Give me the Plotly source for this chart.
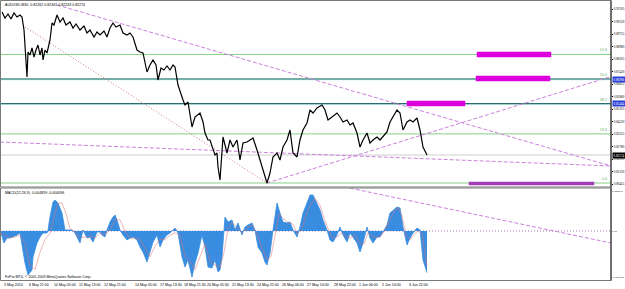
import plotly.graph_objects as go

W, H = 625, 289

# ---------------- data ----------------
bars = [2,5,8,11,14,17,20,22,24,25,26,27,28,30,32,34,36,38,40,42,43,45,47,48,50,52,54,57,60,63,66,70,73,76,80,84,87,90,94,97,100,104,107,110,113,116,120,123,127,130,133,137,140,143,147,150,153,156,158,161,164,167,170,173,175,178,181,183,185,188,192,195,200,203,205,208,210,212,213,215,217,218,220,223,227,230,233,237,240,243,247,250,253,257,260,263,267,270,273,277,280,283,287,290,293,297,300,303,307,310,313,317,322,325,328,332,337,340,343,347,350,353,357,360,363,367,370,373,377,380,383,387,390,393,397,400,403,407,410,413,417,420,423,427]
close = [0.91140,0.90768,0.91016,0.90706,0.91078,0.90830,0.90954,0.90830,0.90024,0.89218,0.88474,0.87110,0.88660,0.88474,0.88908,0.88350,0.88784,0.89094,0.88474,0.88908,0.88164,0.88784,0.88598,0.88908,0.89404,0.90458,0.90334,0.90954,0.90520,0.90768,0.90334,0.90520,0.90148,0.90396,0.90024,0.90272,0.89838,0.90024,0.89590,0.89900,0.89714,0.89962,0.89590,0.90148,0.90458,0.90210,0.90334,0.89838,0.89714,0.89838,0.89590,0.88784,0.88660,0.88598,0.87420,0.87854,0.88164,0.87854,0.86924,0.87668,0.87544,0.87792,0.87544,0.87854,0.87730,0.86614,0.85994,0.85684,0.85374,0.85560,0.84010,0.84630,0.84878,0.84320,0.83638,0.83204,0.83204,0.82770,0.82584,0.82274,0.82398,0.81530,0.80724,0.83390,0.82398,0.83204,0.82770,0.83204,0.81964,0.83018,0.83080,0.83204,0.83328,0.82584,0.81964,0.81344,0.80538,0.81158,0.82150,0.82398,0.81964,0.82770,0.83204,0.83824,0.82398,0.82150,0.83204,0.83824,0.84258,0.85064,0.84878,0.85188,0.85374,0.85064,0.84444,0.84630,0.84878,0.84630,0.84320,0.84444,0.84134,0.84258,0.83638,0.82770,0.83204,0.83638,0.83018,0.83204,0.83390,0.83204,0.83390,0.83700,0.84320,0.84630,0.85064,0.84878,0.83824,0.84320,0.84444,0.84320,0.84568,0.83824,0.82770,0.82274]

macd_bars = [0,2,4,7,10,13,17,20,22,25,28,32,33,37,40,43,47,48,50,52,53,55,58,62,65,68,72,75,78,80,83,87,90,93,97,100,102,105,107,110,113,115,117,120,123,127,130,133,137,140,143,147,150,153,157,160,163,167,170,173,175,178,182,185,188,192,195,198,202,205,208,212,215,218,220,222,223,225,228,232,235,238,242,245,248,252,255,258,262,265,267,270,273,275,277,280,283,287,290,293,297,300,303,307,310,313,317,320,323,327,330,333,337,340,343,347,350,353,357,360,363,367,370,373,377,380,383,387,390,393,397,400,403,407,410,413,417,420,423,427]
macd_main = [-0.000117,-0.000584,-0.001402,-0.000818,-0.000818,-0.000701,-0.000467,-0.000234,-0.001869,-0.003738,-0.005139,-0.004555,-0.003037,-0.001402,-0.000701,-0.000234,-0.000234,0.000117,0.001635,0.002803,0.003387,0.003621,0.003270,0.002102,0.000117,0.000117,0.000117,-0.000234,-0.001051,-0.001402,0.000117,-0.000818,-0.000701,-0.001285,-0.000117,-0.000117,-0.000467,-0.000701,0.000117,0.001051,0.001635,0.001869,0.001285,0.000117,-0.000467,-0.001051,-0.000818,-0.000701,-0.001051,-0.001869,-0.002453,-0.003621,-0.002453,-0.001285,-0.000467,-0.001869,-0.001051,-0.000467,-0.000234,0.000117,0.000350,-0.000234,-0.003037,-0.004205,-0.003387,-0.005373,-0.003738,-0.002570,-0.000467,-0.001869,-0.004205,-0.004322,-0.003387,-0.004789,-0.004555,-0.003037,-0.001051,0.001635,0.001051,0.001285,0.000117,0.000934,-0.000467,0.000467,0.000701,0.000934,0.000117,-0.001869,-0.002570,-0.003621,-0.003971,-0.002570,0.000117,0.001635,0.003270,0.002102,0.001051,0.000934,0.001051,0.000117,-0.000701,0.000467,0.002102,0.003270,0.004205,0.004205,0.003270,0.002453,0.001285,0.000117,-0.001051,-0.001285,-0.000467,0.000467,-0.000467,-0.001285,-0.000234,-0.000701,-0.001402,-0.002453,-0.001402,0.000467,-0.000818,-0.001402,-0.000701,-0.000701,-0.000117,0.000701,0.002102,0.002453,0.002803,0.002686,0.000467,-0.001636,-0.000818,-0.000234,0.000350,0.000117,-0.003387,-0.004859]

sig_bars = [0,5,10,15,20,25,30,35,40,45,50,55,58,62,66,70,75,80,85,90,95,100,105,110,115,120,125,130,135,140,145,150,155,160,165,170,175,180,185,190,195,200,205,210,215,220,224,228,232,237,242,247,252,257,262,267,271,275,279,283,288,293,297,302,306,310,315,320,324,328,332,337,342,346,350,355,360,364,368,372,377,382,386,390,394,398,402,406,410,414,418,422,427]
macd_signal = [-0.0002,-0.0005,-0.0008,-0.0007,-0.0005,-0.0015,-0.0040,-0.0045,-0.0025,-0.0010,-0.0003,0.0020,0.0032,0.0033,0.0020,0.0003,-0.0001,-0.0008,-0.0007,-0.0006,-0.0008,-0.0003,-0.0004,0.0001,0.0013,0.0013,0.0000,-0.0009,-0.0008,-0.0010,-0.0020,-0.0030,-0.0018,-0.0010,-0.0010,-0.0005,-0.0002,-0.0005,-0.0030,-0.0035,-0.0045,-0.0030,-0.0015,-0.0035,-0.0040,-0.0042,-0.0025,0.0003,0.0010,0.0004,-0.0002,0.0003,0.0007,-0.0003,-0.0020,-0.0033,-0.0030,-0.0005,0.0020,0.0015,0.0010,0.0008,-0.0003,0.0003,0.0018,0.0030,0.0038,0.0030,0.0015,0.0003,-0.0008,-0.0007,-0.0002,-0.0007,-0.0008,-0.0005,-0.0015,-0.0015,-0.0002,-0.0006,-0.0008,-0.0004,0.0003,0.0013,0.0023,0.0027,0.0018,-0.0005,-0.0010,-0.0004,0.0000,-0.0003,-0.004096]

# Fibonacci retracement
fib_low, fib_high = 0.80538, 0.93434
fib_levels = [0.0, 23.6, 38.2, 50.0, 61.8]
fib_labels = ["0.0", "23.6", "38.2", "50.0", "61.8"]
hlines_teal = [0.86986, 0.85464]
last_price = 0.82274

# trend lines: (bar0, value0, bar1, value1)
trend_main = [(57, 0.91574, 611, 0.81592), (267, 0.80538, 611, 0.87141), (0, 0.83080, 611, 0.81592)]
fib_diag = (25, 0.90210, 267, 0.80538)
trend_macd = (350, 0.00501, 611, -0.00140)

# rectangles (bar0, bar1, v_top, v_bottom, colour)
rects = [(477, 551, 0.88660, 0.88350, "#dd00dd"), (476, 550, 0.87172, 0.86862, "#dd00dd"),
         (407, 465, 0.85622, 0.85312, "#dd00dd"), (469, 594, 0.80600, 0.80414, "#a23cb8")]

price_ticks = [0.91305, 0.90530, 0.89755, 0.88980, 0.88205, 0.87430, 0.86655, 0.85880,
               0.85105, 0.84330, 0.83555, 0.82780, 0.82005, 0.81230, 0.80455]
macd_ticks = [0.004670, 0.0, -0.005380]
macd_tick_text = ["0.004670", "0.00", "-0.005380"]

time_pos = [2, 27, 52, 77, 102, 133, 158, 182, 205, 230, 255, 280, 305, 332, 357, 380, 407]
time_labels = ["5 May 2010", "6 May 21:00", "10 May 05:00", "11 May 13:00", "12 May 21:00",
               "14 May 05:00", "17 May 13:30", "18 May 21:30", "20 May 05:30", "21 May 13:30",
               "24 May 22:00", "26 May 06:00", "27 May 14:00", "28 May 22:00", "1 Jun 06:00",
               "2 Jun 14:00", "3 Jun 22:00"]

title_text = "AUDUSD,M30  0.82262 0.82341 0.82243 0.82274"
macd_title = "MACD(12,26,9) -0.004859 -0.004096"
copyright_text = "FxPro MT4, \u00a9 2001-2009 MetaQuotes Software Corp."

# ---------------- layout geometry ----------------
X_END = 611
MAIN_TOP, MAIN_BOT = 1, 187
MACD_TOP, MACD_BOT = 188, 280.5
FONT = "Liberation Sans"
NARROW = "Liberation Sans Narrow"
FS = 3.6
FS_AX = 3.3
FS_AX2 = 2.9

def pyp(p):
    return 1 - p / H

fig = go.Figure()

rng = fib_high - fib_low
for lv in fib_levels:
    v = fib_low + rng * lv / 100
    fig.add_trace(go.Scatter(x=[0, X_END], y=[v, v], mode="lines",
                             line=dict(color="#86d086", width=1), hoverinfo="skip", xaxis="x", yaxis="y"))
for v in hlines_teal:
    fig.add_trace(go.Scatter(x=[0, X_END], y=[v - 0.0004, v - 0.0004], mode="lines",
                             line=dict(color="#b8f0f0", width=1.2), hoverinfo="skip", xaxis="x", yaxis="y"))
    fig.add_trace(go.Scatter(x=[0, X_END], y=[v, v], mode="lines",
                             line=dict(color="#2c6e70", width=1.2), hoverinfo="skip", xaxis="x", yaxis="y"))
fig.add_trace(go.Scatter(x=[0, X_END], y=[last_price, last_price], mode="lines",
                         line=dict(color="#cfcfcf", width=1), hoverinfo="skip", xaxis="x", yaxis="y"))

for (b0, v0, b1, v1) in trend_main:
    fig.add_trace(go.Scatter(x=[b0, b1], y=[v0, v1], mode="lines",
                             line=dict(color="#cc80dc", width=1, dash="4px,2px"), hoverinfo="skip", xaxis="x", yaxis="y"))
fig.add_trace(go.Scatter(x=[fib_diag[0], fib_diag[2]], y=[fib_diag[1], fib_diag[3]], mode="lines",
                         line=dict(color="#d07a7a", width=1, dash="1px,2px"), hoverinfo="skip", xaxis="x", yaxis="y"))

for (b0, b1, vt, vb, col) in rects:
    fig.add_trace(go.Scatter(x=[b0, b1, b1, b0, b0], y=[vt, vt, vb, vb, vt], mode="lines", fill="toself",
                             fillcolor=col, line=dict(color=col, width=0.5), hoverinfo="skip", xaxis="x", yaxis="y"))

fig.add_trace(go.Scatter(x=bars, y=close, mode="lines", line=dict(color="black", width=1.2),
                         hoverinfo="skip", xaxis="x", yaxis="y"))

# MACD panel
fig.add_trace(go.Scatter(x=[0, X_END], y=[0, 0], mode="lines",
                         line=dict(color="#a070b0", width=1, dash="1px,2px"), hoverinfo="skip", xaxis="x2", yaxis="y2"))
fig.add_trace(go.Scatter(x=macd_bars, y=macd_main, mode="lines", fill="tozeroy", fillcolor="#3a8de0",
                         line=dict(color="#3a8de0", width=0.8), hoverinfo="skip", xaxis="x2", yaxis="y2"))
fig.add_trace(go.Scatter(x=sig_bars, y=macd_signal, mode="lines", line=dict(color="#e07070", width=0.6),
                         opacity=0.85, hoverinfo="skip", xaxis="x2", yaxis="y2"))
fig.add_trace(go.Scatter(x=[trend_macd[0], trend_macd[2]], y=[trend_macd[1], trend_macd[3]], mode="lines",
                         line=dict(color="#cc80dc", width=1, dash="4px,2px"), hoverinfo="skip", xaxis="x2", yaxis="y2"))

k_price = 0.00062
p_top = last_price + (155 - MAIN_TOP) * k_price
p_bot = last_price + (155 - MAIN_BOT) * k_price
k_macd = 0.0001168
m_top = (231 - MACD_TOP) * k_macd
m_bot = (231 - MACD_BOT) * k_macd

annotations = []
annotations.append(dict(text=title_text, x=3 / W, y=pyp(4.5), xref="paper", yref="paper",
                        xanchor="left", yanchor="middle", showarrow=False, font=dict(size=FS, color="black", family=FONT)))
annotations.append(dict(text=macd_title, x=3 / W, y=pyp(193), xref="paper", yref="paper",
                        xanchor="left", yanchor="middle", showarrow=False, font=dict(size=FS, color="black", family=FONT)))
annotations.append(dict(text=copyright_text, x=3 / W, y=pyp(277), xref="paper", yref="paper",
                        xanchor="left", yanchor="middle", showarrow=False, font=dict(size=FS, color="black", family=FONT)))
for pos, lab in zip(time_pos, time_labels):
    annotations.append(dict(text=lab, x=pos, y=pyp(284.5), xref="x2", yref="paper",
                            xanchor="left", yanchor="middle", showarrow=False, font=dict(size=FS, color="black", family=FONT)))
for lv, lab in zip(fib_levels, fib_labels):
    v = fib_low + rng * lv / 100
    annotations.append(dict(text=lab, x=609, y=v, xref="x", yref="y", xanchor="right", yanchor="bottom",
                            showarrow=False, font=dict(size=FS, color="#5fb05f", family=FONT)))
for v in hlines_teal:
    annotations.append(dict(text=f"{v:.5f}", x=(X_END + 1) / W, y=v, xref="paper", yref="y", xanchor="left",
                            yanchor="middle", showarrow=False, bgcolor="#2a3fd8", borderpad=0.5,
                            font=dict(size=FS_AX, color="white", family=NARROW)))
annotations.append(dict(text=f"{last_price:.5f}", x=(X_END + 1) / W, y=last_price, xref="paper", yref="y",
                        xanchor="left", yanchor="middle", showarrow=False, bgcolor="black", borderpad=0.5,
                        font=dict(size=FS_AX, color="white", family=NARROW)))

shapes = [
    dict(type="rect", xref="paper", yref="paper", x0=0.5 / W, x1=X_END / W, y0=pyp(MAIN_BOT), y1=pyp(0.5),
         line=dict(color="#7a7a7a", width=1)),
    dict(type="rect", xref="paper", yref="paper", x0=0.5 / W, x1=X_END / W, y0=pyp(MACD_BOT), y1=pyp(MACD_TOP),
         line=dict(color="#7a7a7a", width=1)),
    dict(type="line", xref="paper", yref="paper", x0=X_END / W, x1=X_END / W, y0=pyp(MACD_BOT), y1=pyp(0.5),
         line=dict(color="#202020", width=1)),
]

fig.update_layout(
    width=W, height=H, margin=dict(l=0, r=0, t=0, b=0),
    paper_bgcolor="white", plot_bgcolor="white", showlegend=False,
    xaxis=dict(domain=[0, X_END / W], range=[0, X_END], anchor="y", showticklabels=False,
               showgrid=False, zeroline=False, showline=False, fixedrange=True),
    xaxis2=dict(domain=[0, X_END / W], range=[0, X_END], anchor="y2", matches="x", showticklabels=False,
                showgrid=False, zeroline=False, showline=False),
    yaxis=dict(domain=[pyp(MAIN_BOT), pyp(MAIN_TOP)], range=[p_bot, p_top], side="right", anchor="x",
               tickvals=price_ticks, ticktext=[f"{v:.5f}" for v in price_ticks], ticks="outside", ticklen=1,
               tickcolor="black", tickfont=dict(size=FS_AX, color="black", family=NARROW),
               showgrid=False, zeroline=False, showline=False, automargin=False),
    yaxis2=dict(domain=[pyp(MACD_BOT), pyp(MACD_TOP)], range=[m_bot, m_top], side="right", anchor="x2",
                tickvals=macd_ticks, ticktext=macd_tick_text, ticks="", 
                tickfont=dict(size=FS_AX2, color="black", family=NARROW),
                showgrid=False, zeroline=False, showline=False, automargin=False),
    annotations=annotations, shapes=shapes,
)

fig.write_html("out.html")
